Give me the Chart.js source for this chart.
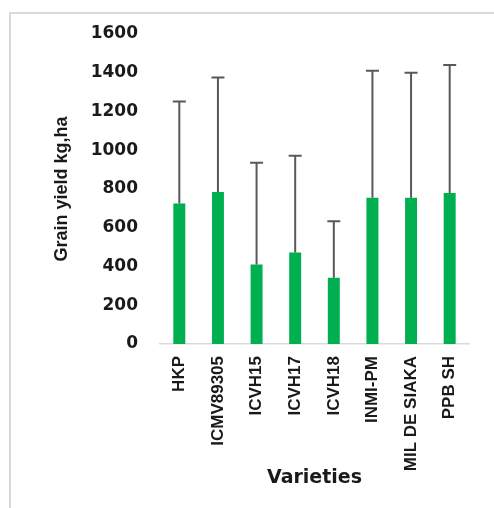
<!DOCTYPE html>
<html>
<head>
<meta charset="utf-8">
<script src="https://cdn.jsdelivr.net/npm/chart.js@4.4.0/dist/chart.umd.min.js"></script>
<style>
  body { margin: 0; background: #fff; }
  #frame { position: absolute; left: 9px; top: 12px; width: 520px; height: 520px; border: 2px solid #d9d9d9; }
  #chart { position: absolute; left: 0; top: 0; }
</style>
</head>
<body>
<div id="frame"></div>
<canvas id="chart" width="494" height="508"></canvas>
<script>
// Grain yield per variety, with upper error bar
var varieties = ['HKP', 'ICMV89305', 'ICVH15', 'ICVH17', 'ICVH18', 'INMI-PM', 'MIL DE SIAKA', 'PPB SH'];
var grainYield = [725, 785, 410, 472, 342, 755, 755, 780];
var errorPlus = [527, 590, 525, 500, 292, 655, 645, 660];
var yTicks = [0, 200, 400, 600, 800, 1000, 1200, 1400, 1600];

// draws the upper error bars from the bar top, using the y scale
var errorBars = {
    id: 'errorBars',
    afterDatasetsDraw: function(chart) {
        var ctx = chart.ctx;
        var yScale = chart.scales.y;
        var meta = chart.getDatasetMeta(0);
        ctx.save();
        ctx.strokeStyle = '#595959';
        ctx.lineWidth = 2;
        meta.data.forEach(function(bar, i) {
            var top = yScale.getPixelForValue(grainYield[i] + errorPlus[i]);
            ctx.beginPath();
            ctx.moveTo(bar.x, bar.y);
            ctx.lineTo(bar.x, top);
            ctx.moveTo(bar.x - 6.5, top);
            ctx.lineTo(bar.x + 6.5, top);
            ctx.stroke();
        });
        ctx.restore();
    }
};

var ctxBar = document.getElementById('chart').getContext('2d');
var barChart = new Chart(ctxBar, {
    type: 'bar',
    data: {
        labels: varieties,
        datasets: [{
            label: 'Grain yield',
            data: grainYield,
            backgroundColor: '#00b050',
            categoryPercentage: 1,
            barPercentage: 0.31
        }]
    },
    options: {
        responsive: false,
        animation: false,
        layout: { padding: { top: 34, right: 25, left: 0, bottom: 0 } },
        plugins: { legend: { display: false }, tooltip: { enabled: false } },
        scales: {
            x: {
                grid: { display: false, drawTicks: false },
                border: { color: '#d9d9d9', width: 1.5 },
                ticks: {
                    color: '#1a1a1a',
                    minRotation: 90,
                    maxRotation: 90,
                    autoSkip: false,
                    padding: 12,
                    font: { family: 'Liberation Sans', weight: 'bold', size: 17 }
                },
                title: {
                    display: true,
                    text: 'Varieties',
                    color: '#1a1a1a',
                    padding: { top: 0, bottom: 19 },
                    font: { family: 'DejaVu Sans', weight: 'bold', size: 19 }
                },
                afterFit: function(scale) { scale.height = 164; }
            },
            y: {
                min: 0,
                max: 1600,
                grid: { display: false, drawTicks: false },
                border: { display: false },
                afterBuildTicks: function(scale) {
                    scale.ticks = yTicks.map(function(v) { return { value: v }; });
                },
                ticks: {
                    color: '#1a1a1a',
                    padding: 22,
                    font: { family: 'DejaVu Sans', weight: 'bold', size: 17 },
                    callback: function(value) { return String(value); }
                },
                title: {
                    display: true,
                    text: 'Grain yield kg,ha',
                    color: '#1a1a1a',
                    padding: { top: 51, bottom: 0 },
                    font: { family: 'Liberation Sans', weight: 'bold', size: 18 }
                },
                afterFit: function(scale) { scale.width = 160; }
            }
        }
    },
    plugins: [errorBars]
});
</script>
</body>
</html>
